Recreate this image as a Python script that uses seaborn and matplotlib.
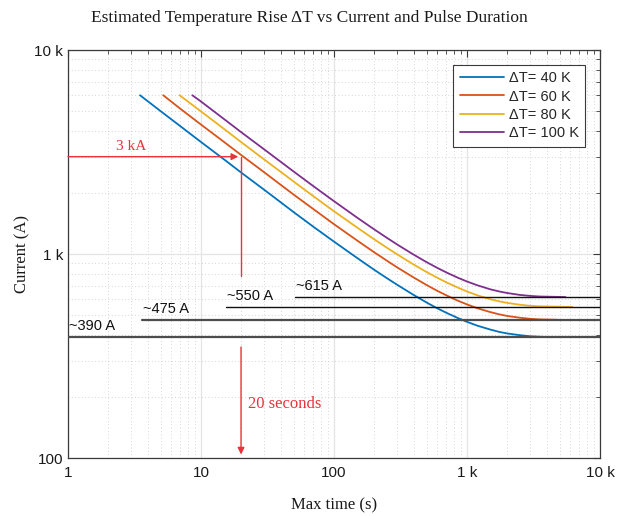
import numpy as np
import pandas as pd
import matplotlib
matplotlib.use('Agg')
import matplotlib.pyplot as plt
import seaborn as sns
from matplotlib.ticker import FixedLocator, FixedFormatter, LogLocator, NullFormatter
from matplotlib.lines import Line2D

# ---------------- data ----------------
series_labels = ['ΔT= 40 K', 'ΔT= 60 K', 'ΔT= 80 K', 'ΔT= 100 K']
series_colors = ['#0072BD', '#D95319', '#EDB120', '#7E2F8E']

t_40 = [3.48, 5, 7, 10, 15, 20, 30, 50, 70, 100, 150, 200, 250, 300, 400, 500, 600, 700, 850, 1000, 1200, 1500, 1750, 2000, 2500, 3000, 3500, 4400]
i_40 = [6000, 5000, 4230, 3540, 2900, 2510, 2060, 1600, 1360, 1150, 954, 838, 761, 705, 628, 577, 541, 515, 486, 465, 445, 426, 415, 408, 400, 395, 393, 391]

t_60 = [5.2, 7, 10, 15, 20, 30, 50, 70, 100, 150, 200, 250, 300, 400, 500, 600, 700, 850, 1000, 1200, 1500, 1750, 2000, 2500, 3000, 3500, 4800]
i_60 = [6000, 5150, 4310, 3530, 3060, 2510, 1950, 1660, 1400, 1162, 1021, 927, 858, 765, 703, 659, 627, 591, 566, 542, 519, 506, 497, 487, 481, 478, 476]

t_80 = [6.9, 10, 15, 20, 30, 50, 70, 100, 150, 200, 250, 300, 400, 500, 600, 700, 850, 1000, 1200, 1500, 1750, 2000, 2500, 3000, 3500, 6200]
i_80 = [6000, 5000, 4090, 3540, 2900, 2260, 1920, 1620, 1345, 1182, 1073, 994, 885, 814, 764, 726, 685, 655, 627, 600, 586, 576, 564, 557, 554, 550]

t_100 = [8.6, 10, 15, 20, 30, 50, 70, 100, 150, 200, 250, 300, 400, 500, 600, 700, 850, 1000, 1200, 1500, 1750, 2000, 2500, 3000, 3500, 5500]
i_100 = [6000, 5590, 4570, 3960, 3250, 2530, 2150, 1815, 1504, 1322, 1200, 1111, 990, 910, 854, 812, 766, 733, 702, 671, 655, 644, 630, 623, 619, 615]

limit_currents = [390, 475, 550, 615]
limit_starts = [1, 3.6, 15.4, 51]
limit_end = 10000
limit_labels = ['~390 A', '~475 A', '~550 A', '~615 A']

target_current = 3000
target_time = 20
target_current_label = '3 kA'
target_time_label = '20 seconds'

x_ticks = [1, 10, 100, 1000, 10000]
x_ticklabels = ['1', '10', '100', '1 k', '10 k']
y_ticks = [100, 1000, 10000]
y_ticklabels = ['100', '1 k', '10 k']

title = 'Estimated Temperature Rise ΔT vs Current and Pulse Duration'
xlabel = 'Max time (s)'
ylabel = 'Current (A)'

# ---------------- build frame ----------------
frames = []
for lab, t, i in zip(series_labels, [t_40, t_60, t_80, t_100], [i_40, i_60, i_80, i_100]):
    frames.append(pd.DataFrame({'time': t, 'current': i, 'series': lab}))
df = pd.concat(frames, ignore_index=True)

sns.set_theme(style='white')
plt.rcParams['font.family'] = ['Liberation Sans', 'DejaVu Sans']
serif = ['Liberation Serif', 'DejaVu Serif']

fig = plt.figure(figsize=(6.18, 5.16), dpi=100)
ax = fig.add_axes([68/618, 1-458/516, (600-68)/618, (458-50)/516])

sns.lineplot(data=df, x='time', y='current', hue='series', hue_order=series_labels,
             palette=series_colors, sort=False, estimator=None, linewidth=1.3,
             ax=ax, legend=False, zorder=3)

ax.set_xscale('log')
ax.set_yscale('log')
ax.set_xlim(1, 10000)
ax.set_ylim(100, 10000)

# ticks and grid
ax.xaxis.set_major_locator(FixedLocator(x_ticks))
ax.xaxis.set_major_formatter(FixedFormatter(x_ticklabels))
ax.yaxis.set_major_locator(FixedLocator(y_ticks))
ax.yaxis.set_major_formatter(FixedFormatter(y_ticklabels))
ax.xaxis.set_minor_locator(LogLocator(base=10, subs=np.arange(2, 10)))
ax.yaxis.set_minor_locator(LogLocator(base=10, subs=np.arange(2, 10)))
ax.xaxis.set_minor_formatter(NullFormatter())
ax.yaxis.set_minor_formatter(NullFormatter())
ax.grid(True, which='major', color='#e4e4e4', linewidth=0.9, linestyle='-', zorder=0)
ax.grid(True, which='minor', color='#c8c8c8', linewidth=0.6, linestyle=(0, (1, 3)), zorder=0)
ax.set_axisbelow(True)

ax.tick_params(which='both', direction='in', top=True, right=True, colors='#3a3a3a',
               labelcolor='#1a1a1a', labelsize=11)
ax.tick_params(which='major', length=5, width=0.8)
ax.tick_params(which='minor', length=3, width=0.6)
for s in ax.spines.values():
    s.set_color('#3a3a3a')
    s.set_linewidth(0.9)
ax.tick_params(axis='x', pad=6)

# limit lines
limit_styles = [('#4d4d4d', 1.6), ('#4d4d4d', 1.6), ('#111111', 1.0), ('#111111', 1.0)]
for cur, st, lab, (c, lw) in zip(limit_currents, limit_starts, limit_labels, limit_styles):
    ax.plot([st, limit_end], [cur, cur], color=c, linewidth=lw, zorder=4)
    ax.annotate(lab, xy=(st, cur), xytext=(1, 3), textcoords='offset points',
                ha='left', va='bottom', fontsize=10.5, color='#111111', zorder=5)

red = '#E8323C'
# 3 kA horizontal arrow
ax.annotate('', xy=(target_time, target_current), xytext=(1, target_current),
            arrowprops=dict(arrowstyle='-|>', color=red, lw=1.0, shrinkA=0, shrinkB=2,
                            mutation_scale=10), zorder=6)
ax.text(3.0, target_current * 1.04, target_current_label, color=red, fontsize=11,
        family=serif, ha='center', va='bottom')
# vertical line and arrow
ax.plot([target_time, target_time], [target_current, 780], color=red, lw=1.0, zorder=6)
ax.annotate('', xy=(target_time, 104), xytext=(target_time, 350),
            arrowprops=dict(arrowstyle='-|>', color=red, lw=1.0, shrinkA=0, shrinkB=0,
                            mutation_scale=10), zorder=6)
ax.text(22.5, 184, target_time_label, color=red, fontsize=12,
        family=serif, ha='left', va='center')

# legend
handles = [Line2D([0], [0], color=c, lw=1.3) for c in series_colors]
leg = ax.legend(handles, series_labels, loc='upper right', fontsize=10.5,
                frameon=True, fancybox=False, edgecolor='#3a3a3a', framealpha=1,
                borderaxespad=1.0, handlelength=3.0, handletextpad=0.35,
                labelspacing=0.3, borderpad=0.45)
leg.get_frame().set_linewidth(0.8)
leg.set_zorder(10)

fig.text(0.5, 1 - 18/516, title, family=serif, fontsize=12.5, color='#1a1a1a',
         ha='center', va='center')
ax.set_xlabel(xlabel, family=serif, fontsize=12, labelpad=12, color='#1a1a1a')
ax.set_ylabel(ylabel, family=serif, fontsize=12, labelpad=3, color='#1a1a1a')

fig.savefig('out.png', dpi=100)
